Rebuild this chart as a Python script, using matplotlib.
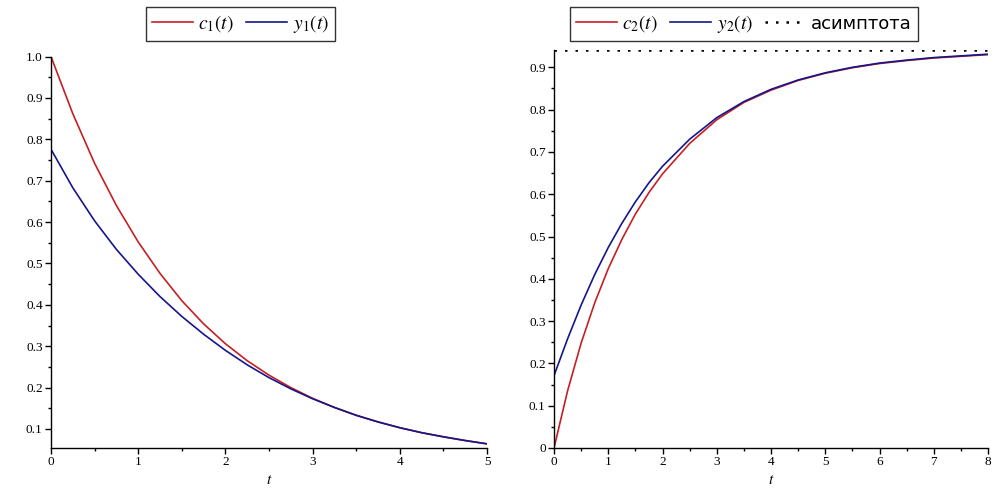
import numpy as np
import matplotlib
matplotlib.use("Agg")
import matplotlib.pyplot as plt
from matplotlib.ticker import MultipleLocator

plt.rcParams['mathtext.fontset'] = 'stix'
plt.rcParams['font.family'] = ['Liberation Serif', 'DejaVu Serif']

# left panel: decay
t1 = [0, 0.25, 0.5, 0.75, 1.0, 1.25, 1.5, 1.75, 2.0, 2.25, 2.5, 2.75,
      3.0, 3.25, 3.5, 3.75, 4.0, 4.25, 4.5, 4.75, 5.0]
c1 = [1.0, 0.862, 0.742, 0.64, 0.552, 0.476, 0.41, 0.354, 0.306, 0.265, 0.23, 0.2,
      0.174, 0.152, 0.133, 0.117, 0.103, 0.091, 0.081, 0.072, 0.064]
y1 = [0.776, 0.683, 0.603, 0.534, 0.474, 0.42, 0.372, 0.329, 0.29, 0.255, 0.224, 0.197,
      0.173, 0.152, 0.133, 0.117, 0.103, 0.091, 0.081, 0.072, 0.064]

# right panel: growth towards the asymptote
t2 = [0, 0.25, 0.5, 0.75, 1.0, 1.25, 1.5, 1.75, 2.0, 2.5, 3.0, 3.5,
      4.0, 4.5, 5.0, 5.5, 6.0, 6.5, 7.0, 7.5, 8.0]
c2 = [0.0, 0.135, 0.248, 0.343, 0.424, 0.493, 0.553, 0.604, 0.648, 0.72, 0.776, 0.817,
      0.846, 0.869, 0.886, 0.899, 0.909, 0.916, 0.922, 0.926, 0.93]
y2 = [0.171, 0.258, 0.338, 0.41, 0.474, 0.531, 0.582, 0.627, 0.666, 0.73, 0.781, 0.819,
      0.848, 0.87, 0.887, 0.9, 0.91, 0.917, 0.923, 0.927, 0.931]
asymptote = 0.94

left_yticks = [0.1, 0.2, 0.3, 0.4, 0.5, 0.6, 0.7, 0.8, 0.9, 1.0]
left_ylabels = ["0.1", "0.2", "0.3", "0.4", "0.5", "0.6", "0.7", "0.8", "0.9", "1.0"]
right_yticks = [0, 0.1, 0.2, 0.3, 0.4, 0.5, 0.6, 0.7, 0.8, 0.9]
right_ylabels = ["0", "0.1", "0.2", "0.3", "0.4", "0.5", "0.6", "0.7", "0.8", "0.9"]

red = '#c42024'
blue = '#16168a'

fig = plt.figure(figsize=(10.04, 4.97), dpi=100)
ax1 = fig.add_axes([0.0508, 0.0986, 0.4343, 0.7875])
ax2 = fig.add_axes([0.5518, 0.0986, 0.4323, 0.800])


def style(ax):
    for s in ['top', 'right']:
        ax.spines[s].set_visible(False)
    for s in ['left', 'bottom']:
        ax.spines[s].set_linewidth(1.0)
    ax.tick_params(which='major', direction='out', length=4, width=1.0,
                   labelsize=9.5, pad=2)
    ax.tick_params(which='minor', direction='out', length=2.5, width=1.0)
    ax.xaxis.set_minor_locator(MultipleLocator(0.5))
    ax.yaxis.set_minor_locator(MultipleLocator(0.05))
    ax.set_xlabel("$t$", fontsize=11, labelpad=4)


l1, = ax1.plot(t1, c1, color=red, lw=1.2, label="$c_1(t)$")
l2, = ax1.plot(t1, y1, color=blue, lw=1.2, label="$y_1(t)$")
ax1.set_xlim(0, 5)
ax1.set_ylim(0.054, 1.0)
ax1.set_xticks(range(0, 6))
ax1.set_yticks(left_yticks)
ax1.set_yticklabels(left_ylabels)
style(ax1)

r1, = ax2.plot(t2, c2, color=red, lw=1.2, label="$c_2(t)$")
r2, = ax2.plot(t2, y2, color=blue, lw=1.2, label="$y_2(t)$")
r3, = ax2.plot([0, 8], [asymptote, asymptote], color='black', lw=1.8,
               linestyle=(0, (1, 3.2)), label="асимптота")
ax2.set_xlim(0, 8)
ax2.set_ylim(0, 0.94)
ax2.set_xticks(range(0, 9))
ax2.set_yticks(right_yticks)
ax2.set_yticklabels(right_ylabels)
style(ax2)

leg_kw = dict(frameon=True, fancybox=False, edgecolor='black', fontsize=14,
              ncol=3, handlelength=2.1, handletextpad=0.3, columnspacing=0.6,
              borderpad=0.3, borderaxespad=0, loc='upper left')
lg1 = fig.legend(handles=[l1, l2], bbox_to_anchor=(146 / 1004, 1 - 7 / 497), **leg_kw)
lg2 = fig.legend(handles=[r1, r2, r3], bbox_to_anchor=(570 / 1004, 1 - 7 / 497), **leg_kw)
for lg in (lg1, lg2):
    lg.get_frame().set_linewidth(1.0)
lg2.get_texts()[2].set_family('DejaVu Sans')
lg2.get_texts()[2].set_fontsize(13)

fig.savefig("out.png", dpi=100)
